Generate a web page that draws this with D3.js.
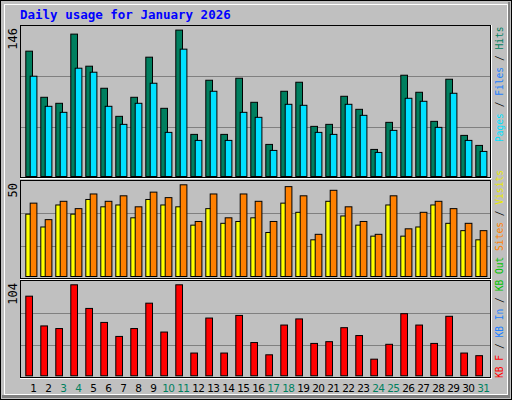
<!DOCTYPE html>
<html><head><meta charset="utf-8">
<script src="https://cdn.jsdelivr.net/npm/d3@7"></script>
<style>body{margin:0;background:#fff}</style>
</head><body>
<svg id="c" width="512" height="400"></svg>
<script>
const days = d3.range(1, 32);
const weekend = [3,4,10,11,17,18,24,25,31];
const hits  = [125,79,73,142,110,88,60,79,119,68,146,42,96,42,98,74,32,85,94,50,52,80,67,27,54,101,84,55,97,41,31];
const files = [100,70,64,108,104,70,52,73,93,44,127,36,85,36,64,59,26,72,71,44,42,72,61,24,46,78,75,49,83,36,25];
const visitors = [34,27,39,34,42,38,39,32,42,39,38,28,37,29,30,32,24,40,35,20,41,33,28,22,39,22,27,39,29,25,20];
const visits   = [40,31,41,37,45,41,44,38,46,43,50,30,45,32,45,41,30,49,44,23,47,38,30,23,44,26,35,41,37,29,25];
const kb = [91,57,54,104,77,61,45,54,83,50,104,26,66,26,69,38,24,58,65,37,39,55,46,19,36,71,58,37,68,26,23];
const maxLabels = ["146","50","104"];

const svg = d3.select("#c");
svg.append("rect").attr("x",0.5).attr("y",0.5).attr("width",511).attr("height",399).attr("fill","#c0c0c0").attr("stroke","#000");
svg.append("rect").attr("x",2).attr("y",395).attr("width",508).attr("height",3).attr("fill","#808080");
svg.append("rect").attr("x",508).attr("y",2).attr("width",2).attr("height",396).attr("fill","#808080");
svg.append("rect").attr("x",4.5).attr("y",4.5).attr("width",503).attr("height",390).attr("fill","none").attr("stroke","#fff");

svg.append("text").attr("x",20).attr("y",19).attr("fill","#0000ff")
  .attr("font-family","DejaVu Sans Mono").attr("font-weight","bold").attr("font-size",12.5)
  .text("Daily usage for January 2026");

const x = d3.scaleBand().domain(days).range([20.3, 485.3]);
const panels = [
  {t:25, b:178, y:d3.scaleLinear().domain([0,146]).range([176,29.6])},
  {t:180, b:279, y:d3.scaleLinear().domain([0,50]).range([276,184.3])},
  {t:280, b:378, y:d3.scaleLinear().domain([0,104]).range([375.3,284.3])}
];
panels.forEach((p,i)=>{
  svg.append("rect").attr("x",20.5).attr("y",p.t+0.5).attr("width",470).attr("height",p.b-p.t-1)
    .attr("fill","#c0c0c0").attr("stroke","#000");
  svg.append("line").attr("x1",20).attr("x2",492).attr("y1",p.b+0.5).attr("y2",p.b+0.5).attr("stroke","#fff");
  svg.append("line").attr("x1",491.5).attr("x2",491.5).attr("y1",p.t).attr("y2",p.b+1).attr("stroke","#fff");
  const h = (p.b-p.t)/3;
  [1,2].forEach(k=>svg.append("line").attr("x1",21).attr("x2",490).attr("y1",Math.round(p.t+k*h)+0.5).attr("y2",Math.round(p.t+k*h)+0.5).attr("stroke","#808080"));
  svg.append("text").attr("transform",`translate(17,${p.t+3}) rotate(-90)`).attr("text-anchor","end")
    .attr("font-family","DejaVu Sans Mono").attr("font-size",12).text(maxLabels[i]);
});

function bars(data, p, off, w, color){
  svg.append("g").selectAll("rect").data(data).join("rect")
    .attr("x",(d,i)=>x(days[i])+off+0.5).attr("y",d=>p.y(d)+0.5)
    .attr("width",w).attr("height",d=>p.y(0)-p.y(d))
    .attr("fill",color).attr("stroke","#000");
}
bars(hits, panels[0], 5, 6.7, "#007f5f");
bars(files, panels[0], 9.4, 6.7, "#00e0ff");
bars(visitors, panels[1], 5, 6.7, "#ffff00");
bars(visits, panels[1], 9.4, 6.7, "#ff8000");
bars(kb, panels[2], 5, 6.7, "#ff0000");

svg.append("g").selectAll("text").data(days).join("text")
  .attr("x",d=>x(d)+x.bandwidth()/2+5.5).attr("y",392).attr("text-anchor","middle")
  .attr("font-family","DejaVu Sans").attr("font-size",10.5).attr("letter-spacing",-0.6)
  .attr("fill",d=>weekend.includes(d)?"#00805f":"#000").text(d=>d);

function legend(y, parts){
  const t = svg.append("text").attr("transform",`translate(503,${y}) rotate(-90)`)
    .attr("font-family","DejaVu Sans Mono").attr("font-size",9.6);
  parts.forEach(([s,c])=>t.append("tspan").attr("fill",c).text(s));
}
legend(142, [["Pages","#00e0ff"],[" / ","#000"],["Files","#2080ff"],[" / ","#000"],["Hits","#007f5f"]]);
legend(378, [["KB F","#ff0000"],[" / ","#000"],["KB In","#2080ff"],[" / ","#000"],["KB Out","#00c000"],[" ",""],["Sites","#ff8000"],[" / ","#000"],["Visits","#e8e800"]]);
</script>
</body></html>
